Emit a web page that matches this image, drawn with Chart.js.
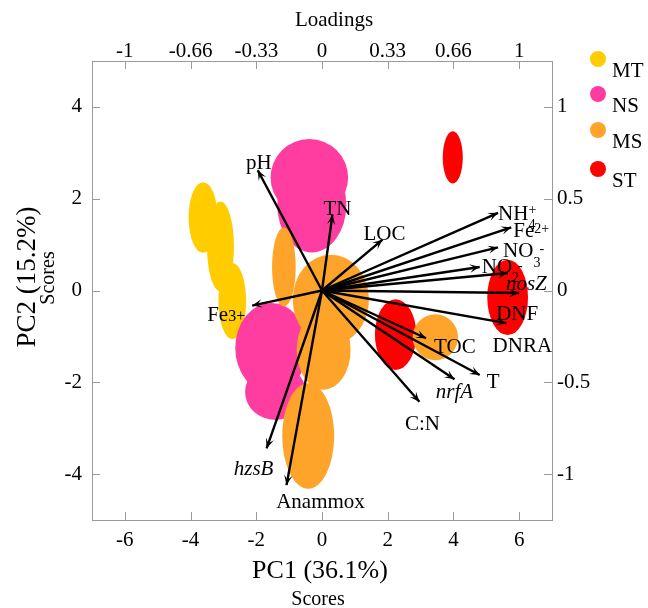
<!DOCTYPE html>
<html><head><meta charset="utf-8">
<script src="https://cdn.jsdelivr.net/npm/chart.js@4.4.1/dist/chart.umd.min.js"></script>
<style>html,body{margin:0;padding:0;background:#fff}#wrap{width:648px;height:608px;position:relative}</style>
</head><body><div id="wrap"><canvas id="c" width="648" height="608"></canvas></div>
<script>
// ---------------- data ----------------
const groups = ['MT', 'NS', 'MS', 'ST'];
const groupColors = ['#FFCC00', '#FF3DA0', '#FFA42A', '#FF0000'];

// sample scores (centre) and spread (half-width on PC1, half-height on PC2), score units
const mtX = [-3.62, -3.09, -2.73];
const mtY = [1.59, 0.96, -0.23];
const mtW = [0.44, 0.41, 0.42];
const mtH = [0.77, 0.98, 0.83];

const nsX = [-0.385, -0.31, -1.54, -1.42];
const nsY = [2.46, 1.86, -1.25, -2.21];
const nsW = [1.18, 1.05, 1.10, 0.92];
const nsH = [0.84, 1.03, 0.98, 0.61];

const msX = [-1.16, 0.27, 0.05, -0.42, 3.45];
const msY = [0.51, -0.20, -1.29, -3.17, -1.02];
const msW = [0.36, 1.16, 0.82, 0.79, 0.69];
const msH = [0.86, 0.98, 0.87, 1.15, 0.50];

const stX = [3.98, 5.65, 2.24];
const stY = [2.90, -0.15, -0.96];
const stW = [0.305, 0.62, 0.63];
const stH = [0.57, 0.82, 0.77];

// variable loadings
const varNames = ['pH', 'TN', 'LOC', 'NH4+', 'Fe2+', 'NO3-', 'NO2-', 'nosZ', 'DNF', 'DNRA', 'TOC', 'T', 'nrfA', 'C:N', 'Fe3+', 'hzsB', 'Anammox'];
const loadX = [-0.326, 0.053, 0.307, 0.893, 0.960, 0.893, 0.800, 0.943, 1.000, 0.935, 0.528, 0.800, 0.672, 0.494, -0.354, -0.281, -0.180];
const loadY = [0.655, 0.413, 0.277, 0.423, 0.344, 0.235, 0.128, 0.095, -0.014, -0.178, -0.260, -0.460, -0.484, -0.606, -0.082, -0.860, -1.060];

// ticks
const scoreXTicks = [-6, -4, -2, 0, 2, 4, 6];
const scoreYTicks = [-4, -2, 0, 2, 4];
const loadXTicks = [-1, -2/3, -1/3, 0, 1/3, 2/3, 1];
const loadXTickLabels = ['-1', '-0.66', '-0.33', '0', '0.33', '0.66', '1'];
const loadYTicks = [-1, -0.5, 0, 0.5, 1];
const loadYTickLabels = ['-1', '-0.5', '0', '0.5', '1'];

// ---------------- styles / layout ----------------
const SERIF = "'Liberation Serif','Times New Roman',serif";
const AXIS_COLOR = '#9a9a9a';
const drawOrder = [0, 1, 3, 2]; // MT, NS, ST, MS (MS painted on top)

const labelLayout = {
  'pH':      {align: 'center', dx: 1,   dy: -1},
  'TN':      {align: 'center', dx: 5,   dy: 0},
  'LOC':     {align: 'center', dx: 2,   dy: 0},
  'NH4+':    {align: 'left',   dx: 0,   dy: 7},
  'Fe2+':    {align: 'left',   dx: 2,   dy: 10},
  'NO3-':    {align: 'left',   dx: 5,   dy: 10},
  'NO2-':    {align: 'left',   dx: 2,   dy: 6},
  'nosZ':    {align: 'left',   dx: -2,  dy: 17},
  'DNF':     {align: 'center', dx: -2,  dy: 27},
  'DNRA':    {align: 'center', dx: 16,  dy: 29},
  'TOC':     {align: 'left',   dx: 8,   dy: 15},
  'T':       {align: 'left',   dx: 7,   dy: 13},
  'nrfA':    {align: 'center', dx: 0,   dy: 19},
  'C:N':     {align: 'center', dx: 3,   dy: 28},
  'Fe3+':    {align: 'right',  dx: -7,  dy: 15},
  'hzsB':    {align: 'center', dx: -13, dy: 27},
  'Anammox': {align: 'center', dx: 34,  dy: 23}
};
const labelParts = {
  'NH4+': [{t: 'NH'}, {t: '4', shift: 9, stack: true}, {t: '+', shift: -6}],
  'Fe2+': [{t: 'Fe'}, {t: '2+', shift: -4}],
  'NO3-': [{t: 'NO'}, {t: '3', shift: 10, stack: true}, {t: '-', shift: -4, dx: 6}],
  'NO2-': [{t: 'NO'}, {t: '2', shift: 9, stack: true}, {t: '-', shift: -3, dx: 6}],
  'Fe3+': [{t: 'Fe'}, {t: '3+', shift: 0, size: 16}],
  'nosZ': [{t: 'nosZ', it: true}],
  'nrfA': [{t: 'nrfA', it: true}],
  'hzsB': [{t: 'hzsB', it: true}]
};

function mkGroup(name, xs, ys, ws, hs, color) {
  return {
    label: name, type: 'scatter', xAxisID: 'x', yAxisID: 'y',
    data: xs.map((v, i) => ({x: v, y: ys[i], w: ws[i], h: hs[i]})),
    backgroundColor: color, borderColor: color, pointRadius: 0, pointHoverRadius: 0,
    isEllipse: true
  };
}
const datasets = [
  mkGroup(groups[0], mtX, mtY, mtW, mtH, groupColors[0]),
  mkGroup(groups[1], nsX, nsY, nsW, nsH, groupColors[1]),
  mkGroup(groups[2], msX, msY, msW, msH, groupColors[2]),
  mkGroup(groups[3], stX, stY, stW, stH, groupColors[3])
];
varNames.forEach((n, i) => {
  datasets.push({
    label: n, type: 'line', xAxisID: 'x2', yAxisID: 'y2',
    data: [{x: 0, y: 0}, {x: loadX[i], y: loadY[i]}],
    borderColor: '#000', borderWidth: 2.4, pointRadius: 0, fill: false, tension: 0,
    isArrow: true
  });
});

function font(size, italic) { return (italic ? 'italic ' : '') + size + 'px ' + SERIF; }

function drawRich(ctx, parts, x, y, align, base) {
  const items = [];
  let cx = 0, w = 0, stackStart = null;
  parts.forEach(p => {
    const size = p.size || (p.shift !== undefined ? 14 : base);
    ctx.font = font(size, p.it);
    const pw = ctx.measureText(p.t).width;
    let px = cx + (p.dx || 0);
    if (stackStart !== null && !p.dx) px = stackStart;
    items.push({t: p.t, x: px, y: p.shift || 0, size, it: p.it});
    if (p.stack) { stackStart = px; }
    else { cx = Math.max(cx, px + pw); stackStart = null; }
    w = Math.max(w, px + pw);
  });
  let ox = x;
  if (align === 'center') ox = x - w / 2;
  else if (align === 'right') ox = x - w;
  ctx.textAlign = 'left';
  ctx.textBaseline = 'alphabetic';
  items.forEach(it => {
    ctx.font = font(it.size, it.it);
    ctx.fillText(it.t, ox + it.x, y + it.y);
  });
}

const biplotPlugin = {
  id: 'biplot',
  beforeDatasetsDraw(chart) {
    const ctx = chart.ctx, ca = chart.chartArea;
    const xs = chart.scales.x, ys = chart.scales.y;
    ctx.save();
    ctx.beginPath(); ctx.rect(ca.left, ca.top, ca.right - ca.left, ca.bottom - ca.top); ctx.clip();
    drawOrder.forEach(di => {
      const ds = chart.data.datasets[di];
      ctx.fillStyle = ds.backgroundColor;
      ds.data.forEach(p => {
        const cx = xs.getPixelForValue(p.x), cy = ys.getPixelForValue(p.y);
        const rx = Math.abs(xs.getPixelForValue(p.x + p.w) - cx);
        const ry = Math.abs(ys.getPixelForValue(p.y + p.h) - cy);
        ctx.beginPath(); ctx.ellipse(cx, cy, rx, ry, 0, 0, Math.PI * 2); ctx.fill();
      });
    });
    ctx.restore();
  },
  afterDatasetsDraw(chart) {
    const ctx = chart.ctx;
    ctx.save();
    chart.data.datasets.forEach((ds, di) => {
      if (!ds.isArrow) return;
      const meta = chart.getDatasetMeta(di);
      const a = meta.data[0], b = meta.data[1];
      const ang = Math.atan2(b.y - a.y, b.x - a.x);
      const L = 10, W = 4.2;
      const ux = Math.cos(ang), uy = Math.sin(ang), px = -uy, py = ux;
      ctx.fillStyle = '#000';
      ctx.beginPath();
      ctx.moveTo(b.x, b.y);
      ctx.lineTo(b.x - L * ux + W * px, b.y - L * uy + W * py);
      ctx.lineTo(b.x - 0.55 * L * ux, b.y - 0.55 * L * uy);
      ctx.lineTo(b.x - L * ux - W * px, b.y - L * uy - W * py);
      ctx.closePath(); ctx.fill();
      const lay = labelLayout[ds.label];
      const parts = labelParts[ds.label] || [{t: ds.label}];
      ctx.fillStyle = '#000';
      drawRich(ctx, parts, b.x + lay.dx, b.y + lay.dy, lay.align, 21);
    });
    ctx.restore();
  },
  afterDraw(chart) {
    const ctx = chart.ctx, ca = chart.chartArea;
    ctx.save();
    ctx.strokeStyle = AXIS_COLOR; ctx.lineWidth = 1;
    const TL = 8;
    const sc = chart.scales;
    ctx.beginPath();
    sc.x.ticks.forEach(t => { const p = Math.round(sc.x.getPixelForValue(t.value)) + 0.5; ctx.moveTo(p, ca.bottom); ctx.lineTo(p, ca.bottom - TL); });
    sc.x2.ticks.forEach(t => { const p = Math.round(sc.x2.getPixelForValue(t.value)) + 0.5; ctx.moveTo(p, ca.top); ctx.lineTo(p, ca.top + TL); });
    sc.y.ticks.forEach(t => { const p = Math.round(sc.y.getPixelForValue(t.value)) + 0.5; ctx.moveTo(ca.left, p); ctx.lineTo(ca.left + TL, p); });
    sc.y2.ticks.forEach(t => { const p = Math.round(sc.y2.getPixelForValue(t.value)) + 0.5; ctx.moveTo(ca.right, p); ctx.lineTo(ca.right - TL, p); });
    ctx.stroke();

    ctx.fillStyle = '#000';
    ctx.textAlign = 'center'; ctx.textBaseline = 'alphabetic';
    ctx.font = font(21); ctx.fillText('Loadings', 334, 26);
    ctx.font = font(26); ctx.fillText('PC1 (36.1%)', 320, 578);
    ctx.font = font(20); ctx.fillText('Scores', 318, 605);
    ctx.save(); ctx.translate(35, 277); ctx.rotate(-Math.PI / 2);
    ctx.font = font(27); ctx.fillText('PC2 (15.2%)', 0, 0); ctx.restore();
    ctx.save(); ctx.translate(54, 278); ctx.rotate(-Math.PI / 2);
    ctx.font = font(20); ctx.fillText('Scores', 0, 0); ctx.restore();

    const legY = [59, 94, 130, 169];
    groups.forEach((g, i) => {
      ctx.fillStyle = groupColors[i];
      ctx.beginPath(); ctx.arc(598, legY[i], 8, 0, Math.PI * 2); ctx.fill();
      ctx.fillStyle = '#000'; ctx.textAlign = 'left'; ctx.font = font(21);
      ctx.fillText(g, 612, legY[i] + 18);
    });
    ctx.restore();
  }
};

const tickFont = {family: SERIF, size: 21};
function axisBase(extra) {
  return Object.assign({
    type: 'linear',
    grid: {display: true, drawOnChartArea: false, drawTicks: false},
    border: {display: true, color: AXIS_COLOR, width: 1}
  }, extra);
}

new Chart(document.getElementById('c'), {
  data: {datasets},
  options: {
    responsive: false, animation: false, events: [],
    layout: {padding: 0},
    plugins: {legend: {display: false}, tooltip: {enabled: false}},
    scales: {
      x: axisBase({position: 'bottom', min: -7, max: 7,
        afterBuildTicks: s => { s.ticks = scoreXTicks.map(v => ({value: v})); },
        afterFit: s => { s.height = 88; },
        ticks: {font: tickFont, color: '#000', padding: 8, maxRotation: 0, autoSkip: false, callback: v => String(v)}}),
      x2: axisBase({position: 'top', min: -7/6, max: 7/6,
        afterBuildTicks: s => { s.ticks = loadXTicks.map(v => ({value: v})); },
        afterFit: s => { s.height = 61; },
        ticks: {font: tickFont, color: '#000', padding: -3, maxRotation: 0, autoSkip: false, callback: (v, i) => loadXTickLabels[i]}}),
      y: axisBase({position: 'left', min: -5, max: 5,
        afterBuildTicks: s => { s.ticks = scoreYTicks.map(v => ({value: v})); },
        afterFit: s => { s.width = 92; },
        ticks: {font: tickFont, color: '#000', padding: 10, autoSkip: false, callback: v => String(v)}}),
      y2: axisBase({position: 'right', min: -1.25, max: 1.25,
        afterBuildTicks: s => { s.ticks = loadYTicks.map(v => ({value: v})); },
        afterFit: s => { s.width = 96; },
        ticks: {font: tickFont, color: '#000', padding: 5, autoSkip: false, callback: (v, i) => loadYTickLabels[i]}})
    }
  },
  plugins: [biplotPlugin]
});
</script>
</body></html>
